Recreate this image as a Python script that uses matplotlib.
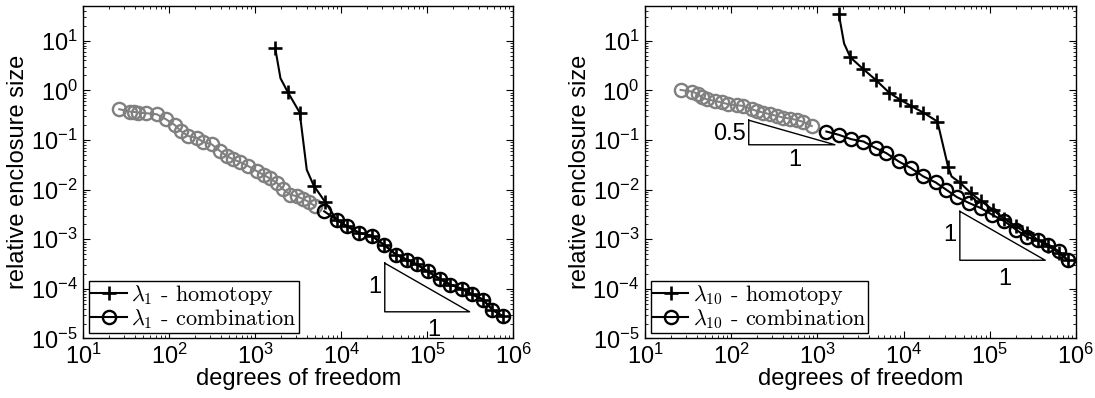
import matplotlib
matplotlib.use("Agg")
import matplotlib.pyplot as plt

plt.rcParams['font.family'] = ['Liberation Sans', 'DejaVu Sans']
plt.rcParams['mathtext.fontset'] = 'custom'
plt.rcParams['mathtext.rm'] = 'Liberation Sans'

# ---- left panel: lambda_1 ----
hom1_x = [1700, 1960, 2370, 3280, 3963, 4780, 6500, 8790, 11650, 16160, 22430, 31140,
          43250, 57300, 75900, 100500, 139600, 185000, 252000, 334000, 443000, 570000, 755000]
hom1_y = [7.2, 1.75, 0.94, 0.356, 0.0251, 0.012, 0.0056, 0.00248, 0.00182, 0.00134, 0.00118,
          0.00078, 0.00049, 0.00039, 0.00031, 0.000226, 0.000159, 0.000122, 0.0001, 7.7e-5,
          6.1e-5, 3.8e-5, 2.8e-5]
hom1_marks = [0, 2, 3, 5, 6] + list(range(7, 23))

comb1_gray_x = [26.2, 34.9, 38.9, 43.7, 53.6, 71.3, 91.5, 116.5, 135.6, 166, 208, 248, 311,
                389, 465, 555, 663, 829, 1038, 1262, 1482, 1773, 2118, 2531, 3027, 3554,
                4246, 4943]
comb1_gray_y = [0.416, 0.373, 0.367, 0.357, 0.346, 0.33, 0.261, 0.198, 0.152, 0.120, 0.111,
                0.091, 0.0817, 0.0598, 0.0473, 0.0406, 0.0358, 0.0297, 0.0236, 0.0195,
                0.0168, 0.0137, 0.01005, 0.00796, 0.00736, 0.00652, 0.00557, 0.00462]
comb1_x = [6320, 8790, 11650, 16160, 22430, 31140, 43250, 57300, 75900, 100500, 139600,
           185000, 252000, 334000, 443000, 570000, 755000]
comb1_y = [0.00365, 0.00248, 0.00182, 0.00134, 0.00118, 0.00078, 0.00049, 0.00039, 0.00031,
           0.000226, 0.000159, 0.000122, 0.0001, 7.7e-5, 6.1e-5, 3.8e-5, 2.8e-5]

# ---- right panel: lambda_10 ----
hom10_x = [1774, 2042, 2415, 3424, 4763, 6808, 9202, 12210, 16980, 24730, 32800, 36060,
           44770, 60500, 80200, 108400, 147900, 201800, 267700, 361600, 479700, 636000, 806000]
hom10_y = [34.4, 8.8, 4.62, 2.66, 1.62, 0.90, 0.641, 0.486, 0.356, 0.235, 0.0292, 0.0184,
           0.01395, 0.00851, 0.00579, 0.00394, 0.00256, 0.00182, 0.00134, 0.00098, 0.00072,
           0.00053, 0.000377]
hom10_marks = [0] + list(range(2, 11)) + list(range(12, 23))

comb10_gray_x = [25.9, 35.6, 41.5, 45.4, 52, 64.9, 77.6, 92.5, 115.8, 138, 173, 198, 236,
                 282, 338, 403, 481, 576, 689, 861]
comb10_gray_y = [1.02, 0.94, 0.84, 0.72, 0.66, 0.61, 0.57, 0.525, 0.50, 0.486, 0.416, 0.385,
                 0.356, 0.33, 0.305, 0.283, 0.27, 0.253, 0.231, 0.191]
comb10_x = [1274, 1774, 2468, 3424, 4763, 6314, 8780, 12210, 16980, 23600, 31300, 41500,
            57700, 78700, 106400, 147900, 201800, 267700, 361600, 479700, 636000, 806000]
comb10_y = [0.148, 0.127, 0.1037, 0.0931, 0.0684, 0.0543, 0.0369, 0.0271, 0.0184, 0.01395,
            0.00994, 0.00708, 0.00536, 0.00425, 0.00313, 0.0023, 0.00156, 0.00111, 0.00095,
            0.00078, 0.00057, 0.000377]

GRAY = '#808080'
FS = 17


def slope_triangle(ax, x0, x1, y0, y1, lab_v, lab_h, vx, vy, hx, hy):
    ax.plot([x0, x0, x1, x0], [y1, y0, y0, y1], color='black', lw=1.0)
    ax.text(vx, vy, lab_v, ha='right', va='center', fontsize=FS)
    ax.text(hx, hy, lab_h, ha='center', va='center', fontsize=FS)


def draw_panel(ax, hx, hy, hmarks, gx, gy, cx, cy, idx):
    ax.plot(gx, gy, color=GRAY, marker='o', ms=9.5, mew=1.7, mfc='none', lw=1.5)
    ax.plot(cx, cy, color='black', marker='o', ms=9.5, mew=1.7, mfc='none', lw=1.5,
            label=r'$\lambda_{%s}$ - combination' % idx, zorder=3)
    ax.plot(hx, hy, color='black', marker='+', ms=10, mew=1.9, lw=1.5, markevery=hmarks,
            label=r'$\lambda_{%s}$ - homotopy' % idx, zorder=4)
    ax.set_xscale('log')
    ax.set_yscale('log')
    ax.set_xlim(10, 1e6)
    ax.set_ylim(1e-5, 50)
    ax.set_xlabel('degrees of freedom', fontsize=FS, labelpad=-1)
    ax.set_ylabel('relative enclosure size', fontsize=FS, labelpad=1)
    ax.tick_params(which='both', direction='in', top=True, right=True, labelsize=FS)
    ax.tick_params(which='major', length=5, pad=4)
    ax.tick_params(which='minor', length=2.5)
    for s in ax.spines.values():
        s.set_linewidth(1.0)
    handles, labels = ax.get_legend_handles_labels()
    leg = ax.legend(handles[::-1], labels[::-1], loc='lower left',
                    prop={'family': 'cmr10', 'size': 16, 'math_fontfamily': 'cm'},
                    fancybox=False, edgecolor='black', framealpha=1,
                    borderpad=0.1, labelspacing=0.0, handlelength=1.6,
                    handletextpad=0.2, borderaxespad=0.25)
    leg.get_frame().set_linewidth(1.0)


fig = plt.figure(figsize=(10.95, 3.98), dpi=100)
ax1 = fig.add_axes([0.0761, 0.1495, 0.3927, 0.8354])
ax2 = fig.add_axes([0.589, 0.1495, 0.3936, 0.8354])

draw_panel(ax1, hom1_x, hom1_y, hom1_marks, comb1_gray_x, comb1_gray_y, comb1_x, comb1_y, '1')
slope_triangle(ax1, 3.2e4, 3.1e5, 3.45e-5, 3.3e-4, '1', '1', 2.9e4, 1.1e-4, 1.2e5, 1.5e-5)

draw_panel(ax2, hom10_x, hom10_y, hom10_marks, comb10_gray_x, comb10_gray_y,
           comb10_x, comb10_y, '10')
slope_triangle(ax2, 4.5e4, 4.4e5, 3.77e-4, 3.65e-3, '1', '1', 4.1e4, 1.2e-3, 1.5e5, 1.6e-4)
slope_triangle(ax2, 1.6e2, 1.6e3, 0.08, 0.25, '0.5', '1', 1.5e2, 0.13, 5.5e2, 0.04)

fig.savefig('out.png', dpi=100)
